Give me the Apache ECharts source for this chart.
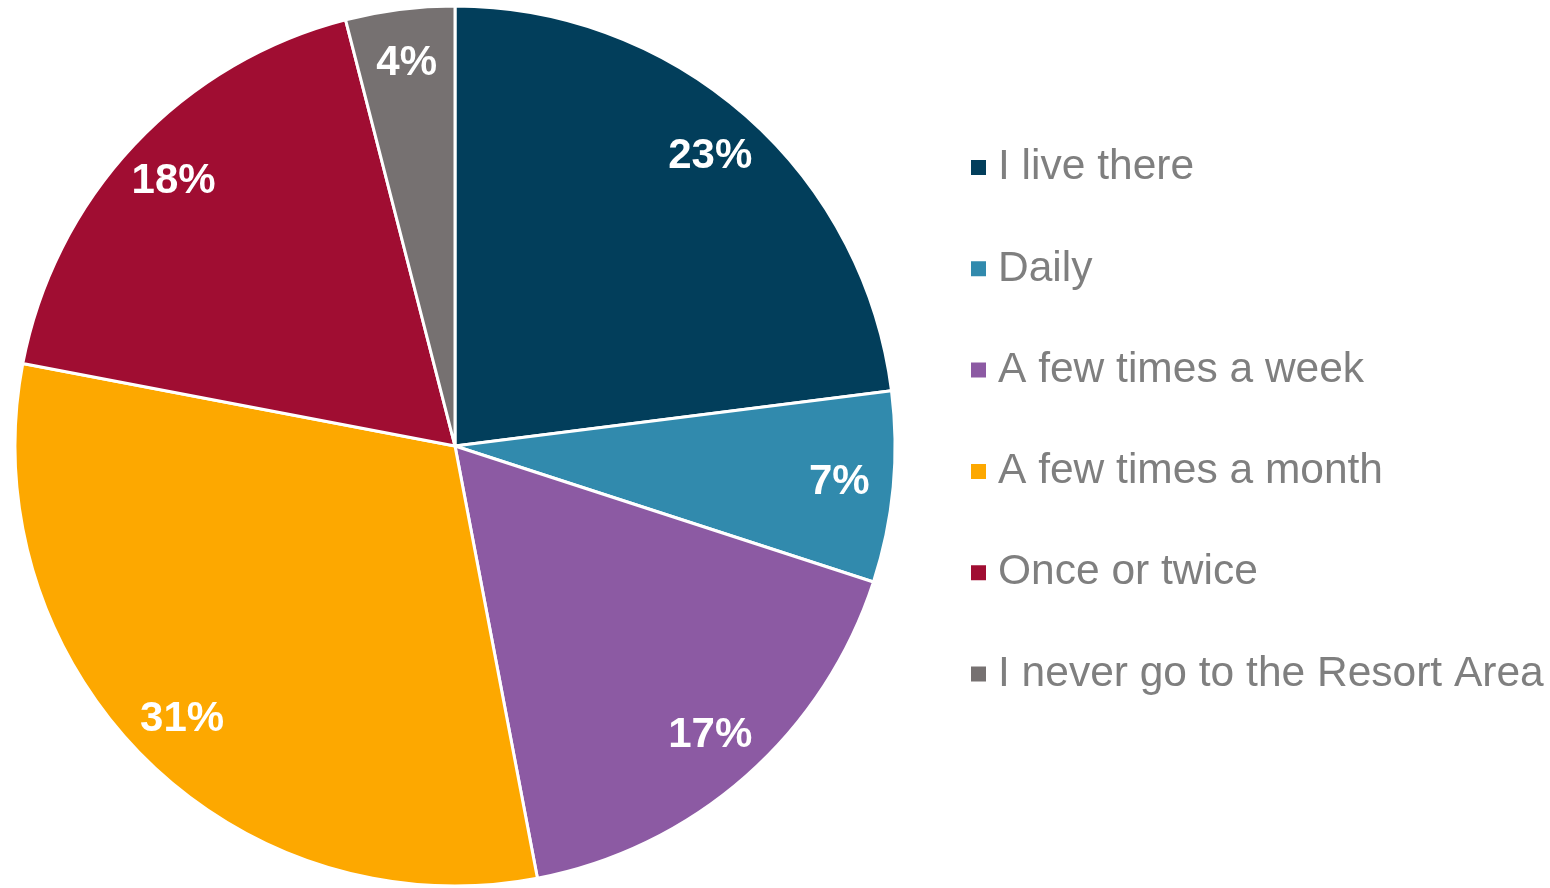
<!DOCTYPE html>
<html>
<head>
<meta charset="utf-8">
<script src="https://cdn.jsdelivr.net/npm/echarts@6/dist/echarts.min.js"></script>
<style>
  html, body { margin: 0; padding: 0; background: #fff; }
  #chart { width: 1550px; height: 888px; }
</style>
</head>
<body>
<div id="chart"></div>
<script>
const categories = ['I live there', 'Daily', 'A few times a week', 'A few times a month', 'Once or twice', 'I never go to the Resort Area']
const shares = [23, 7, 17, 31, 18, 4]
const colors = ['#023e5b', '#318aad', '#8c5aa3', '#fda800', '#a00d32', '#767171']

const pieData = categories.map((name, i) => ({ name: name, value: shares[i] }))

const chart = echarts.init(document.getElementById('chart'))
const option = {
  animation: false,
  color: colors,
  legend: {
    orient: 'vertical',
    left: 969,
    top: 146,
    padding: 0,
    icon: 'rect',
    itemWidth: 17,
    itemHeight: 17,
    itemGap: 58.3,
    data: categories.map((name, i) => ({ name: name, itemStyle: { color: colors[i] } })),
    textStyle: {
      color: '#7f7f7f',
      fontFamily: 'Liberation Sans, Arial, sans-serif',
      fontSize: 42.5,
      lineHeight: 42,
      padding: [0, 0, 0, 6]
    }
  },
  series: [{
    // slices
    type: 'pie',
    center: [455, 446],
    radius: [0, 440],
    startAngle: 90,
    data: pieData,
    label: { show: false },
    labelLine: { show: false },
    itemStyle: { borderColor: '#fff', borderWidth: 3 },
    emphasis: { disabled: true }
  }, {
    // labels only, placed near the rim like the original
    type: 'pie',
    silent: true,
    center: [455, 446],
    radius: [326, 440],
    startAngle: 90,
    data: pieData,
    itemStyle: { color: 'transparent', borderWidth: 0 },
    label: {
      show: true,
      position: 'inside',
      formatter: '{c}%',
      color: '#fff',
      fontWeight: 'bold',
      fontSize: 42,
      fontFamily: 'Liberation Sans, Arial, sans-serif'
    },
    labelLine: { show: false },
    emphasis: { disabled: true }
  }]
}
chart.setOption(option, true)
</script>
</body>
</html>
